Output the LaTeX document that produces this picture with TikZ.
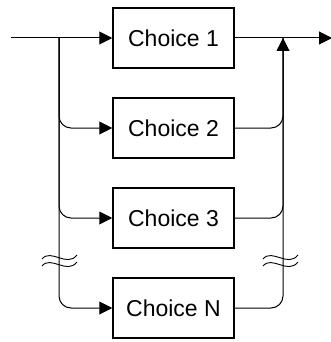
\documentclass[tikz,border=0pt]{standalone}
\usepackage{fontspec}
\setmainfont{Liberation Sans}
\usetikzlibrary{arrows.meta}
\tikzset{%
  >={Triangle[width=13pt,length=13pt]},
  % Specifications for style of nodes:
  choice/.style  = {rectangle, draw=black, line width=1.5pt,
                    minimum width=121pt, minimum height=60pt,
                    text centered, font=\fontsize{23}{27}\selectfont},
  wire/.style    = {line width=1pt, draw=black},
  curvewire/.style = {wire, rounded corners=12pt},
}

\begin{document}
\begin{tikzpicture}[x=1pt, y=1pt, node distance=90pt]
  \useasboundingbox (0,0) rectangle (330,-342);
  % Specification of nodes (position, etc.)
  \node (choiceA) [choice] at (173.5,-38) {Choice 1};
  \node (choiceB) [choice, below of=choiceA] {Choice 2};
  \node (choiceC) [choice, below of=choiceB] {Choice 3};
  \node (choiceN) [choice, below of=choiceC] {Choice N};

  \coordinate (entry) at (11,-38);
  \coordinate (split) at (59,-38);
  \coordinate (join)  at (283,-38);
  \coordinate (exit)  at (332,-38);

  % Lines into the choices
  \draw[wire] (entry) -- (split);
  \draw[wire,->] (split) -- (choiceA.west);
  \draw[curvewire,->] (split) |- (choiceB.west);
  \draw[curvewire,->] (split) |- (choiceC.west);
  \draw[curvewire,->] (split) |- (choiceN.west);

  % Lines out of the choices
  \draw[wire,->] (choiceA.east) -- (exit);
  \draw[curvewire] (choiceB.east) -| (join);
  \draw[curvewire] (choiceC.east) -| (join);
  \draw[curvewire,->] (choiceN.east) -| (join);

  % break marks
  \foreach \bx in {42,263}{
    \draw[line width=0.9pt] (\bx,-259) .. controls (\bx+9,-248) and (\bx+25,-268) .. (\bx+35,-255);
    \draw[line width=0.9pt] (\bx,-266) .. controls (\bx+9,-255) and (\bx+25,-275) .. (\bx+35,-262);
  }
\end{tikzpicture}
\end{document}
